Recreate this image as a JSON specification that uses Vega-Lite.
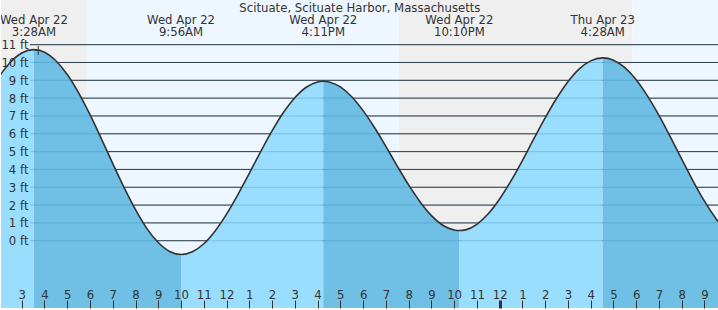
{
  "$schema": "https://vega.github.io/schema/vega-lite/v6.json",
  "width": 718,
  "height": 310,
  "autosize": {"type": "fit", "contains": "padding"},
  "padding": 0,
  "background": "#ffffff",
  "config": {"view": {"stroke": null}, "font": "DejaVu Sans"},
  "datasets": {
    "sky": [
      {"from": 2.0, "to": 5.862, "sky": "night"},
      {"from": 5.862, "to": 19.566, "sky": "day"},
      {"from": 19.566, "to": 29.833, "sky": "night"},
      {"from": 29.833, "to": 34.0, "sky": "day"}
    ],
    "grid": [
      {"ft": 0}, {"ft": 1}, {"ft": 2}, {"ft": 3}, {"ft": 4}, {"ft": 5},
      {"ft": 6}, {"ft": 7}, {"ft": 8}, {"ft": 9}, {"ft": 10}, {"ft": 11}
    ],
    "tide": [
      {"t": 2.0, "h": 9.20, "seg": "A", "phase": "rising"},
      {"t": 2.5, "h": 10.01, "seg": "A", "phase": "rising"},
      {"t": 3.0, "h": 10.53, "seg": "A", "phase": "rising"},
      {"t": 3.537, "h": 10.72, "seg": "A", "phase": "rising"},
      {"t": 3.537, "h": 10.72, "seg": "B", "phase": "falling", "edge": true},
      {"t": 4.0, "h": 10.58, "seg": "B", "phase": "falling"},
      {"t": 4.5, "h": 10.10, "seg": "B", "phase": "falling"},
      {"t": 5.0, "h": 9.33, "seg": "B", "phase": "falling"},
      {"t": 5.5, "h": 8.30, "seg": "B", "phase": "falling"},
      {"t": 6.0, "h": 7.07, "seg": "B", "phase": "falling"},
      {"t": 6.5, "h": 5.72, "seg": "B", "phase": "falling"},
      {"t": 7.0, "h": 4.33, "seg": "B", "phase": "falling"},
      {"t": 7.5, "h": 2.98, "seg": "B", "phase": "falling"},
      {"t": 8.0, "h": 1.74, "seg": "B", "phase": "falling"},
      {"t": 8.5, "h": 0.68, "seg": "B", "phase": "falling"},
      {"t": 9.0, "h": -0.10, "seg": "B", "phase": "falling"},
      {"t": 9.5, "h": -0.60, "seg": "B", "phase": "falling"},
      {"t": 10.0, "h": -0.77, "seg": "B", "phase": "falling"},
      {"t": 10.0, "h": -0.77, "seg": "C", "phase": "rising", "edge": true},
      {"t": 10.5, "h": -0.62, "seg": "C", "phase": "rising"},
      {"t": 11.0, "h": -0.17, "seg": "C", "phase": "rising"},
      {"t": 11.5, "h": 0.55, "seg": "C", "phase": "rising"},
      {"t": 12.0, "h": 1.49, "seg": "C", "phase": "rising"},
      {"t": 12.5, "h": 2.59, "seg": "C", "phase": "rising"},
      {"t": 13.0, "h": 3.78, "seg": "C", "phase": "rising"},
      {"t": 13.5, "h": 5.00, "seg": "C", "phase": "rising"},
      {"t": 14.0, "h": 6.16, "seg": "C", "phase": "rising"},
      {"t": 14.5, "h": 7.19, "seg": "C", "phase": "rising"},
      {"t": 15.0, "h": 8.02, "seg": "C", "phase": "rising"},
      {"t": 15.5, "h": 8.61, "seg": "C", "phase": "rising"},
      {"t": 16.0, "h": 8.91, "seg": "C", "phase": "rising"},
      {"t": 16.25, "h": 8.95, "seg": "C", "phase": "rising"},
      {"t": 16.25, "h": 8.95, "seg": "D", "phase": "falling", "edge": true},
      {"t": 16.5, "h": 8.91, "seg": "D", "phase": "falling"},
      {"t": 17.0, "h": 8.63, "seg": "D", "phase": "falling"},
      {"t": 17.5, "h": 8.08, "seg": "D", "phase": "falling"},
      {"t": 18.0, "h": 7.30, "seg": "D", "phase": "falling"},
      {"t": 18.5, "h": 6.35, "seg": "D", "phase": "falling"},
      {"t": 19.0, "h": 5.29, "seg": "D", "phase": "falling"},
      {"t": 19.5, "h": 4.19, "seg": "D", "phase": "falling"},
      {"t": 20.0, "h": 3.13, "seg": "D", "phase": "falling"},
      {"t": 20.5, "h": 2.19, "seg": "D", "phase": "falling"},
      {"t": 21.0, "h": 1.41, "seg": "D", "phase": "falling"},
      {"t": 21.5, "h": 0.87, "seg": "D", "phase": "falling"},
      {"t": 22.0, "h": 0.60, "seg": "D", "phase": "falling"},
      {"t": 22.23, "h": 0.57, "seg": "D", "phase": "falling"},
      {"t": 22.23, "h": 0.57, "seg": "E", "phase": "rising", "edge": true},
      {"t": 22.5, "h": 0.61, "seg": "E", "phase": "rising"},
      {"t": 23.0, "h": 0.92, "seg": "E", "phase": "rising"},
      {"t": 23.5, "h": 1.51, "seg": "E", "phase": "rising"},
      {"t": 24.0, "h": 2.34, "seg": "E", "phase": "rising"},
      {"t": 24.5, "h": 3.36, "seg": "E", "phase": "rising"},
      {"t": 25.0, "h": 4.50, "seg": "E", "phase": "rising"},
      {"t": 25.5, "h": 5.71, "seg": "E", "phase": "rising"},
      {"t": 26.0, "h": 6.89, "seg": "E", "phase": "rising"},
      {"t": 26.5, "h": 7.98, "seg": "E", "phase": "rising"},
      {"t": 27.0, "h": 8.92, "seg": "E", "phase": "rising"},
      {"t": 27.5, "h": 9.64, "seg": "E", "phase": "rising"},
      {"t": 28.0, "h": 10.09, "seg": "E", "phase": "rising"},
      {"t": 28.53, "h": 10.26, "seg": "E", "phase": "rising"},
      {"t": 28.53, "h": 10.26, "seg": "F", "phase": "falling", "edge": true},
      {"t": 29.0, "h": 10.13, "seg": "F", "phase": "falling"},
      {"t": 29.5, "h": 9.71, "seg": "F", "phase": "falling"},
      {"t": 30.0, "h": 9.03, "seg": "F", "phase": "falling"},
      {"t": 30.5, "h": 8.11, "seg": "F", "phase": "falling"},
      {"t": 31.0, "h": 7.03, "seg": "F", "phase": "falling"},
      {"t": 31.5, "h": 5.83, "seg": "F", "phase": "falling"},
      {"t": 32.0, "h": 4.58, "seg": "F", "phase": "falling"},
      {"t": 32.5, "h": 3.35, "seg": "F", "phase": "falling"},
      {"t": 33.0, "h": 2.22, "seg": "F", "phase": "falling"},
      {"t": 33.5, "h": 1.25, "seg": "F", "phase": "falling"},
      {"t": 34.0, "h": 0.47, "seg": "F", "phase": "falling"}
    ],
    "extremes": [
      {"t": 3.537, "label": "Wed Apr 22\n3:28AM"},
      {"t": 10.0, "label": "Wed Apr 22\n9:56AM"},
      {"t": 16.25, "label": "Wed Apr 22\n4:11PM"},
      {"t": 22.23, "label": "Wed Apr 22\n10:10PM"},
      {"t": 28.53, "label": "Thu Apr 23\n4:28AM"}
    ],
    "now": [{"t": 3.725, "h": 10.68}]
  },
  "layer": [
    {
      "data": {"name": "sky"},
      "mark": {"type": "rect", "clip": true},
      "encoding": {
        "x": {
          "field": "from", "type": "quantitative",
          "scale": {"domain": [2.089, 33.595], "nice": false, "zero": false},
          "axis": {
            "orient": "bottom", "offset": -8, "zindex": 2,
            "values": [3, 4, 5, 6, 7, 8, 9, 10, 11, 12, 13, 14, 15, 16, 17, 18, 19, 20, 21, 22, 23, 24, 25, 26, 27, 28, 29, 30, 31, 32, 33],
            "labelExpr": "datum.value % 12 == 0 ? '12' : '' + (datum.value % 12)",
            "domain": false, "grid": false, "ticks": true, "tickSize": 8, "tickColor": "#333333",
            "tickWidth": {"condition": {"test": "datum.value == 24", "value": 3}, "value": 1},
            "labelBaseline": "alphabetic", "labelPadding": -10, "labelFontSize": 11.7, "labelFont": "DejaVu Sans",
            "labelColor": "#333333", "labelFlush": false, "labelOverlap": false, "title": null
          }
        },
        "x2": {"field": "to"},
        "color": {"field": "sky", "type": "nominal", "scale": {"domain": ["night", "day"], "range": ["#efefef", "#eef7ff"]}, "legend": null}
      }
    },
    {
      "data": {"name": "grid"},
      "mark": {"type": "rule", "color": "#333333", "strokeWidth": 1, "clip": true},
      "encoding": {
        "y": {
          "field": "ft", "type": "quantitative",
          "scale": {"domain": [-3.774, 13.506], "nice": false, "zero": false},
          "axis": {
            "orient": "left", "offset": -29, "zindex": 2, "values": [0, 1, 2, 3, 4, 5, 6, 7, 8, 9, 10, 11],
            "labelExpr": "datum.value + ' ft'", "domain": false, "ticks": false, "grid": false,
            "labelPadding": 2, "labelFontSize": 11.7, "labelFont": "DejaVu Sans", "labelColor": "#333333",
            "labelFlush": false, "labelOverlap": false, "title": null
          }
        },
        "x": {"datum": 3.361, "axis": null},
        "x2": {"datum": 34}
      }
    },
    {
      "data": {"name": "tide"},
      "mark": {"type": "area", "interpolate": "monotone", "clip": true},
      "encoding": {
        "x": {"field": "t", "type": "quantitative", "axis": null},
        "y": {"field": "h", "type": "quantitative", "stack": null, "axis": null},
        "y2": {"datum": -4},
        "color": {"field": "phase", "type": "nominal", "scale": {"domain": ["rising", "falling"], "range": ["#99ddff", "#70c0e6"]}, "legend": null},
        "detail": {"field": "seg"}
      }
    },
    {
      "data": {"name": "grid"},
      "mark": {"type": "rule", "color": "#1a6fa0", "opacity": 0.25, "strokeWidth": 1, "clip": true},
      "encoding": {
        "y": {"field": "ft", "type": "quantitative", "axis": null},
        "x": {"datum": 3.361, "axis": null},
        "x2": {"datum": 34}
      }
    },
    {
      "data": {"name": "tide"},
      "transform": [{"filter": "!datum.edge"}],
      "mark": {"type": "line", "interpolate": "monotone", "color": "#333333", "strokeWidth": 1.6, "clip": true},
      "encoding": {
        "x": {"field": "t", "type": "quantitative", "axis": null},
        "y": {"field": "h", "type": "quantitative", "axis": null}
      }
    },
    {
      "data": {"name": "now"},
      "mark": {"type": "point", "shape": "M-0.67,0H0.67M0,-1V1", "filled": false, "color": "#333333", "strokeWidth": 1, "size": 81, "opacity": 1},
      "encoding": {
        "x": {"field": "t", "type": "quantitative", "axis": null},
        "y": {"field": "h", "type": "quantitative", "axis": null}
      }
    },
    {
      "data": {"name": "extremes"},
      "mark": {"type": "text", "align": "center", "baseline": "top", "lineBreak": "\n", "lineHeight": 12, "fontSize": 11.7, "font": "DejaVu Sans", "color": "#333333", "clip": true},
      "encoding": {
        "x": {"field": "t", "type": "quantitative", "axis": null},
        "y": {"datum": 12.67, "axis": null},
        "text": {"field": "label"}
      }
    },
    {
      "data": {"values": [{}]},
      "mark": {"type": "text", "align": "center", "baseline": "top", "fontSize": 11.7, "font": "DejaVu Sans", "color": "#333333", "clip": true},
      "encoding": {
        "x": {"datum": 17.86, "axis": null},
        "y": {"datum": 13.34, "axis": null},
        "text": {"value": "Scituate, Scituate Harbor, Massachusetts"}
      }
    }
  ],
  "resolve": {
    "scale": {"color": "independent"},
    "axis": {"x": "independent", "y": "independent"}
  }
}
